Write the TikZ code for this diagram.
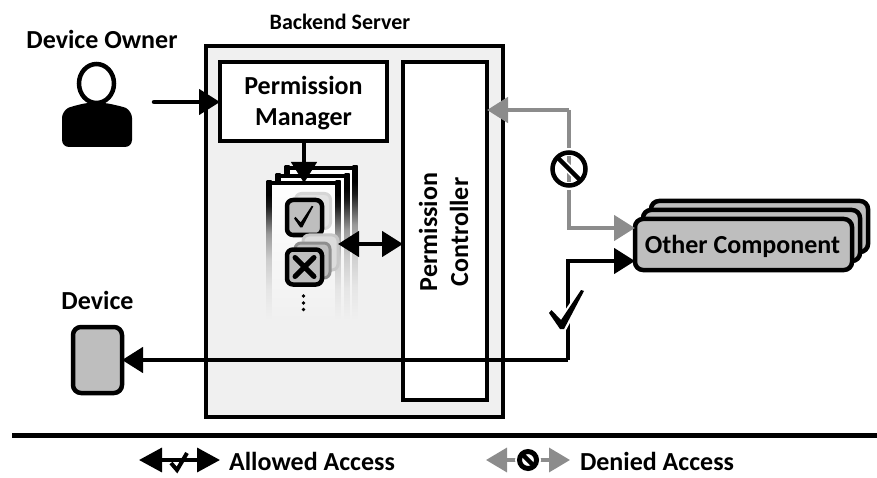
\documentclass[tikz,border=0pt]{standalone}
\usepackage{fontspec}
\setmainfont{Carlito}
\usetikzlibrary{arrows.meta,shapes.geometric}
\definecolor{panel}{HTML}{F0F0F0}
\definecolor{softgray}{HTML}{8C8C8C}
\definecolor{boxgray}{HTML}{BEBEBE}
\definecolor{ghosta}{HTML}{D6D6D6}
\definecolor{ghostb}{HTML}{C8C8C8}
\definecolor{ghostc}{HTML}{8E8E8E}
\pgfdeclareverticalshading{docfade}{100bp}{color(0bp)=(panel); color(25bp)=(panel); color(36bp)=(black!10); color(47bp)=(black!20); color(56bp)=(black!40); color(66bp)=(black!90); color(70bp)=(black); color(100bp)=(black)}
\pgfdeclareverticalshading{docfill}{100bp}{color(0bp)=(panel); color(25bp)=(panel); color(75bp)=(white); color(100bp)=(white)}
\newcommand{\docsheet}[3]{%
  \shade[shading=docfill] (#1,#3) rectangle (#2,320);
  \shade[shading=docfade] (#1-2.5,#3-2) rectangle (#1+2.5,320);
  \shade[shading=docfade] (#2-2.5,#3-2) rectangle (#2+2.5,320);
  \draw[line width=4.5pt,line cap=round] (#1,#3) -- (#2,#3);
}
\tikzset{
  x=1pt,y=-1pt,
  lbl/.style={font=\fontsize{26}{31}\selectfont\bfseries,align=center,inner sep=0pt,outer sep=0pt},
  frame/.style={draw,line width=4.5pt,minimum width=#1,outer sep=0pt,inner sep=0pt},
  comp/.style={draw,line width=4.5pt,fill=boxgray,rounded corners=8pt,minimum width=217pt,minimum height=51pt,outer sep=0pt,inner sep=0pt},
  tickbox/.style={draw,line width=4.5pt,fill=boxgray,rounded corners=6pt,minimum width=35pt,minimum height=35pt,outer sep=0pt,inner sep=0pt},
  ghost/.style={draw=#1,line width=3pt,fill=#1!50!panel,rounded corners=6pt,minimum width=35pt,minimum height=35pt,outer sep=0pt},
  blk/.style={line width=4.5pt,draw=black},
  gry/.style={line width=4.5pt,draw=softgray},
  bhead/.style={-{Triangle[length=21pt,width=25pt,fill=black]}},
  ghead/.style={-{Triangle[length=21pt,width=25pt,fill=softgray]},draw=softgray},
  chk/.pic={
    \fill[black] (-18,0) -- (-15.5,-3) -- (-6,7) -- (14,-23) -- (17,-22) -- (-3,16) -- (-7,16) -- cycle;
  },
  chkhalo/.pic={
    \fill[white] (-21,0) -- (-15.5,-6) -- (-6,3) -- (14,-26) -- (20,-22) -- (-2,19) -- (-8,19) -- cycle;
  },
  nosign/.pic={
    \fill[white] (0,0) circle (21);
    \draw[line width=4pt,draw=softgray] (0,-13) -- (0,13);
    \draw[line width=8pt,white] (-12,-12) -- (12,12);
    \draw[line width=4.5pt] (-12,-12) -- (12,12);
    \draw[line width=4.5pt] (0,0) circle (16.5);
  },
}
\begin{document}
\begin{tikzpicture}
\useasboundingbox (0,0) rectangle (877,478);
% backend
\node[frame=297pt,minimum height=371pt,fill=panel] (backend) at (354.5,231.5) {};
\node[lbl,font=\fontsize{22}{26}\selectfont\bfseries] (backendlabel) at (340,22) {Backend Server};
\node[frame=167pt,minimum height=79pt,fill=white] (pm) at (303.5,101.5) {};
\node[lbl] (pmlabel) at (303.5,103) {Permission\\Manager};
\node[frame=84pt,minimum height=338pt,fill=white] (pc) at (445,231) {};
\node[lbl,rotate=90] (pclabel) at (443.5,232) {Permission\\Controller};
% permission stack
\docsheet{287}{355}{168}
\docsheet{278}{347}{176}
\docsheet{269}{338}{183}
\coordinate (stacktop) at (304,183);
\coordinate (stackright) at (338,244);
\node[ghost=ghosta] (g1) at (313,211) {};
\node[tickbox] (cb1) at (304.5,217.5) {};
\pic[scale=.55] at (304,218.5) {chk};
\node[ghost=ghostb] (g2) at (320.5,252.5) {};
\node[ghost=ghostc] (g3) at (312.5,260.5) {};
\node[tickbox] (cb2) at (304.5,267) {};
\draw[line width=5pt,line cap=round] (295,257.5) -- (314,276.5) (314,257.5) -- (295,276.5);
\fill (303.5,296) circle (1.8) (303.5,303) circle (1.8) (303.5,309.5) circle (1.8);
\draw[blk,bhead] (pm.south -| stacktop) -- (stacktop);
\draw[blk,{Triangle[length=21pt,width=25pt]}-{Triangle[length=21pt,width=25pt]}] (stackright) -- (stackright -| pc.west);
% owner
\node[lbl] (ownerlabel) at (102,39) {Device Owner};
\fill[rounded corners=7pt] (62,147) -- (62,111) .. controls (70,107) and (84,103) .. (96,103) .. controls (108,103) and (124,107) .. (132,111) -- (132,147) -- cycle;
\node[draw,line width=4.5pt,fill=white,ellipse,minimum width=35pt,minimum height=39pt,inner sep=0pt,outer sep=0pt] (owner) at (96.5,83.5) {};
\coordinate (ownerout) at (154,102);
\draw[blk,bhead,line cap=round] (ownerout) -- (ownerout -| pm.west);
% device
\node[lbl] (devicelabel) at (97.5,300) {Device};
\node[draw,line width=4.5pt,fill=boxgray,rounded corners=8pt,minimum width=49pt,minimum height=66pt,outer sep=0pt] (device) at (97.5,360) {};
% other component
\node[comp] (oc3) at (759.5,226.5) {};
\node[comp] (oc2) at (751.5,235.5) {};
\node[comp] (oc1) at (743.5,244.5) {};
\node[lbl] (oclabel) at (742.5,246) {Other Component};
% connectors
\coordinate (gbend1) at (569,110);
\coordinate (gbend2) at (569,228);
\draw[gry,ghead] (gbend1) -- (gbend1 -| pc.east);
\draw[gry,ghead] (gbend1) -- (gbend2) -- (gbend2 -| oc1.west);
\pic at (569,169) {nosign};
\coordinate (bbend1) at (568,261);
\coordinate (bbend2) at (568,360);
\draw[blk,bhead] (bbend2) -- (bbend1) -- (bbend1 -| oc1.west);
\draw[blk,bhead] (bbend2) -- (bbend2 -| device.east);
\pic at (567,313) {chkhalo};
\pic at (567,313) {chk};
% rule
\coordinate (rulea) at (12,435);
\coordinate (ruleb) at (877,435);
\draw[line width=5pt] (rulea) -- (ruleb);
% legend
\coordinate (la) at (139,460);
\coordinate (lb) at (220,460);
\draw[line width=3.5pt,{Triangle[length=23pt,width=24pt]}-{Triangle[length=23pt,width=24pt]}] (la) -- (lb);
\draw[line width=4pt] (171,463) -- (177,470) -- (187,453);
\node[lbl,anchor=west] (allowed) at (229,461) {Allowed Access};
\coordinate (lc) at (486,460);
\coordinate (ld) at (570,460);
\draw[line width=3.5pt,draw=softgray,{Triangle[length=21pt,width=24pt,fill=softgray]}-{Triangle[length=21pt,width=24pt,fill=softgray]}] (lc) -- (ld);
\fill[white] (528,460) circle (13);
\draw[line width=5pt] (528,460) circle (8.5);
\draw[line width=4.5pt] (522,454) -- (534,466);
\node[lbl,anchor=west] (denied) at (580,461) {Denied Access};
\end{tikzpicture}
\end{document}
